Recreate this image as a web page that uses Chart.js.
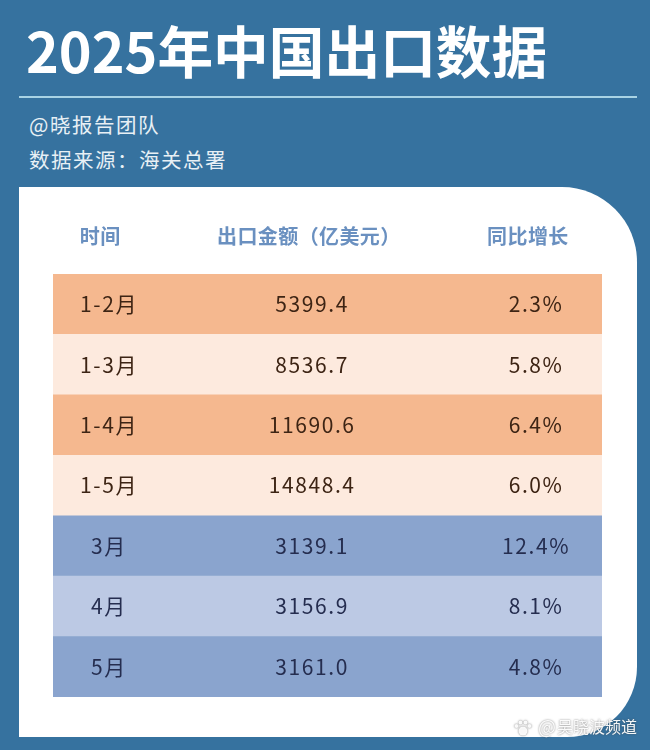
<!DOCTYPE html>
<html lang="zh-CN">
<head>
<meta charset="utf-8">
<title>2025年中国出口数据</title>
<script src="https://cdn.jsdelivr.net/npm/chart.js@4/dist/chart.umd.min.js"></script>
<style>
    html, body { margin: 0; padding: 0; }
    body {
        position: relative;
        width: 650px;
        height: 750px;
        overflow: hidden;
        background: #36729f;
        font-family: "Noto Sans CJK SC", "Noto Sans", sans-serif;
    }
    .title {
        position: absolute;
        left: 26px;
        top: 9px;
        color: #fff;
        font-size: 55.7px;
        font-weight: 700;
        line-height: 80px;
        white-space: nowrap;
    }
    .rule {
        position: absolute;
        left: 19px;
        top: 96px;
        width: 618px;
        height: 2px;
        background: #a9d3e4;
    }
    .sub {
        position: absolute;
        left: 29px;
        color: #e8f0f5;
        font-size: 20.5px;
        line-height: 28px;
        letter-spacing: 1.5px;
        white-space: nowrap;
    }
    .card {
        position: absolute;
        left: 19px;
        top: 187px;
        width: 618px;
        height: 550px;
        background: #fff;
        border-radius: 0 75px 70px 0;
    }
    canvas { position: absolute; left: 0; top: 0; }
</style>
</head>
<body>
<div class="title">2025年中国出口数据</div>
<div class="rule"></div>
<div class="sub" style="top:110px">@晓报告团队</div>
<div class="sub" style="top:145px">数据来源：海关总署</div>
<div class="card"></div>
<canvas id="chart" width="650" height="750"></canvas>

<script>
const headers = ['时间', '出口金额（亿美元）', '同比增长'];
const periods = ['1-2月', '1-3月', '1-4月', '1-5月', '3月', '4月', '5月'];
const amounts = [5399.4, 8536.7, 11690.6, 14848.4, 3139.1, 3156.9, 3161.0];
const growth = [2.3, 5.8, 6.4, 6.0, 12.4, 8.1, 4.8];
const rowSpan = [1, 1, 1, 1, 1, 1, 1];
const rowColors = ['#f5b88f', '#fdeade', '#f5b88f', '#fdeade', '#8aa4ce', '#bcc9e4', '#8aa4ce'];
const textColors = ['#3d2414', '#3d2414', '#3d2414', '#3d2414', '#252d4f', '#252d4f', '#252d4f'];

const tableText = {
    id: 'tableText',
    afterDatasetsDraw(chart) {
        const ctx = chart.ctx;
        const x = chart.scales.x;
        const y = chart.scales.y;
        const font = '"Noto Sans CJK SC", "Noto Sans", sans-serif';
        ctx.save();
        ctx.textAlign = 'center';
        ctx.textBaseline = 'middle';

        // header row sits above the bars
        ctx.font = '700 20px ' + font;
        ctx.fillStyle = '#6a90c0';
        ctx.letterSpacing = '0.4px';
        ctx.fillText(headers[0], x.getPixelForValue(0.086), 236);
        ctx.fillText(headers[1], x.getPixelForValue(0.466), 236);
        ctx.fillText(headers[2], x.getPixelForValue(0.865), 236);

        ctx.font = '400 21px ' + font;
        ctx.letterSpacing = '1.6px';
        periods.forEach(function (p, i) {
            const rowY = y.getPixelForValue(i);
            ctx.fillStyle = textColors[i];
            ctx.fillText(p, x.getPixelForValue(0.102), rowY);
            ctx.fillText(amounts[i].toFixed(1), x.getPixelForValue(0.472), rowY);
            ctx.fillText(growth[i].toFixed(1) + '%', x.getPixelForValue(0.88), rowY);
        });

        // watermark
        ctx.letterSpacing = '0px';
        ctx.textAlign = 'right';
        ctx.shadowColor = 'rgba(70,70,70,0.8)';
        ctx.shadowBlur = 2;
        ctx.fillStyle = 'rgba(255,255,255,0.95)';
        ctx.font = '400 16px ' + font;
        ctx.fillText('吴晓波频道', 637, 727);
        ctx.font = '400 19px ' + font;
        ctx.fillText('@', 556, 727);

        // little paw in front of the watermark
        [[523, 731, 4.5], [516.5, 726, 2], [520.5, 722.5, 2], [525.5, 722.5, 2], [529.5, 726, 2]].forEach(function (c) {
            ctx.beginPath();
            ctx.arc(c[0], c[1], c[2], 0, Math.PI * 2);
            ctx.fill();
        });
        ctx.restore();
    }
};

new Chart(document.getElementById('chart').getContext('2d'), {
    type: 'bar',
    plugins: [tableText],
    data: {
        labels: periods,
        datasets: [{
            data: rowSpan,
            backgroundColor: rowColors,
            borderWidth: 0,
            barPercentage: 1,
            categoryPercentage: 1
        }]
    },
    options: {
        indexAxis: 'y',
        responsive: false,
        animation: false,
        layout: { padding: { left: 53, right: 48, top: 274, bottom: 53 } },
        plugins: { legend: { display: false }, tooltip: { enabled: false } },
        scales: {
            x: { display: false, min: 0, max: 1 },
            y: { display: false }
        }
    }
});
</script>
</body>
</html>
